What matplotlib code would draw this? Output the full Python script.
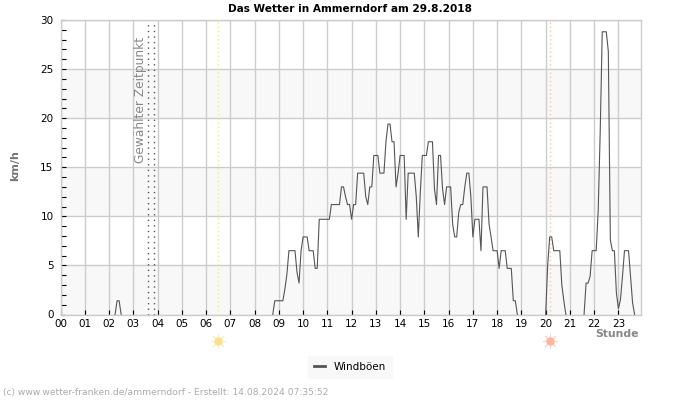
import matplotlib
matplotlib.use('Agg')
import matplotlib.pyplot as plt
from matplotlib.transforms import blended_transform_factory

# Gust values in km/h, one list per hour, one value every 5 minutes
h00 = [0] * 12
h01 = [0] * 12
h02 = [0, 0, 0, 0, 1.4, 1.4, 0, 0, 0, 0, 0, 0]
h03 = [0] * 12
h04 = [0] * 12
h05 = [0] * 12
h06 = [0] * 12
h07 = [0] * 12
h08 = [0, 0, 0, 0, 0, 0, 0, 0, 0, 0, 1.4, 1.4]
h09 = [1.4, 1.4, 1.4, 2.6, 4.1, 6.5, 6.5, 6.5, 6.5, 4.3, 3.2, 6.5]
h10 = [7.9, 7.9, 7.9, 6.5, 6.5, 6.5, 4.7, 4.7, 9.7, 9.7, 9.7, 9.7]
h11 = [9.7, 9.7, 11.2, 11.2, 11.2, 11.2, 11.2, 13, 13, 12, 11.2, 11.2]
h12 = [9.7, 11.2, 11.2, 14.4, 14.4, 14.4, 14.4, 12, 11.2, 13, 13, 16.2]
h13 = [16.2, 16.2, 14.4, 14.4, 14.4, 17.6, 19.4, 19.4, 17.6, 17.6, 13, 14.4]
h14 = [16.2, 16.2, 16.2, 9.7, 14.4, 14.4, 14.4, 14.4, 12, 7.9, 12.5, 16.2]
h15 = [16.2, 16.2, 17.6, 17.6, 17.6, 12.8, 11.2, 16.2, 16.2, 12.8, 11.2, 13]
h16 = [13, 13, 9.2, 7.9, 7.9, 10.4, 11.2, 11.2, 13, 14.4, 14.4, 12]
h17 = [7.9, 9.7, 9.7, 9.7, 6.5, 13, 13, 13, 9.2, 7.9, 6.5, 6.5]
h18 = [6.5, 4.7, 6.5, 6.5, 6.5, 4.7, 4.7, 4.7, 1.4, 1.4, 0, 0]
h19 = [0] * 12
h20 = [0, 5, 7.9, 7.9, 6.5, 6.5, 6.5, 6.5, 3, 1.4, 0, 0]
h21 = [0, 0, 0, 0, 0, 0, 0, 0, 3.2, 3.2, 3.9, 6.5]
h22 = [6.5, 6.5, 10.6, 18.7, 28.8, 28.8, 28.8, 26.8, 7.6, 6.5, 6.5, 2.2]
h23 = [0.6, 1.5, 3.9, 6.5, 6.5, 6.5, 3.9, 1.2, 0]

hour_lists = [h00, h01, h02, h03, h04, h05, h06, h07, h08, h09, h10, h11,
              h12, h13, h14, h15, h16, h17, h18, h19, h20, h21, h22, h23]
hour_labels = ['%02d' % i for i in range(24)]

selected_times = [3.6, 3.85]
sunrise = 6.51
sunset = 20.17

gusts = []
for hour_values in hour_lists:
    gusts.extend(hour_values)
times = [i * 5 / 60 for i in range(len(gusts))]

# Calm stretches are not drawn: blank a zero when both neighbours are zero too
shown = list(gusts)
for i in range(len(gusts)):
    before = gusts[i - 1] if i > 0 else 0
    after = gusts[i + 1] if i < len(gusts) - 1 else 0
    if gusts[i] == 0 and before == 0 and after == 0:
        shown[i] = float('nan')

fig = plt.figure(figsize=(7, 4), dpi=100)
ax = fig.add_axes([60.5 / 700, 1 - 314.5 / 400, 580 / 700, 294.5 / 400])
ax.set_xlim(0, 23.91)
ax.set_ylim(0, 30)

# Alternating background bands
for low in [0, 10, 20]:
    ax.axhspan(low, low + 5, color='#f8f8f8', lw=0, zorder=0)

ax.set_xticks(range(24))
ax.set_xticklabels(hour_labels, fontsize=7)
ax.set_yticks(range(0, 31, 5))
ax.set_yticks(range(0, 31), minor=True)
ax.tick_params(axis='both', which='both', direction='in', color='black', width=0.8)
ax.tick_params(axis='x', length=3.6, pad=3, labelsize=7.5)
ax.tick_params(axis='y', which='major', length=3.3, pad=5, labelsize=7.5)
ax.tick_params(axis='y', which='minor', length=3.3)
ax.grid(True, which='major', color='#cccccc', linewidth=1, zorder=1)
ax.set_axisbelow(True)
for side in ax.spines.values():
    side.set_color('#cccccc')
    side.set_linewidth(1)
    side.set_zorder(5)

for t in selected_times:
    ax.axvline(t, color='#555555', linestyle=(0, (1, 3)), linewidth=1, zorder=2)
ax.axvline(sunrise, color='#f5ee60', linestyle=(0, (1, 2)), linewidth=1, zorder=2)
ax.axvline(sunset, color='#f5c98a', linestyle=(0, (1, 2)), linewidth=1, zorder=2)

ax.plot(times, shown, color='#555555', linewidth=0.8, zorder=3, label='Windböen')

ax.text(3.3, 21.9, 'Gewählter Zeitpunkt', rotation=90, color='#888888', fontsize=8.8,
        ha='center', va='center', zorder=2)

# Sun symbols under the axis
trans = blended_transform_factory(ax.transData, fig.transFigure)
sun_y = 1 - 341 / 400
for x, col in [(sunrise, '#fce08a'), (sunset, '#fdb5a0')]:
    ax.plot([x], [sun_y], transform=trans, marker=(8, 2, 0), markersize=11, color=col,
            markeredgewidth=0.7, clip_on=False, alpha=0.6)
    ax.plot([x], [sun_y], transform=trans, marker='o', markersize=6, color=col,
            markeredgewidth=0, clip_on=False)

fig.text(349.5 / 700, 1 - 8.5 / 400, 'Das Wetter in Ammerndorf am 29.8.2018', fontsize=7.55,
         fontweight='bold', ha='center', va='center')
fig.text(15 / 700, 1 - 166 / 400, 'km/h', fontsize=8, fontweight='bold', color='#777777',
         rotation=90, ha='center', va='center')
fig.text(639 / 700, 1 - 334 / 400, 'Stunde', fontsize=7.8, fontweight='bold', color='#888888',
         ha='right', va='center')
fig.text(3 / 700, 1 - 393 / 400, '(c) www.wetter-franken.de/ammerndorf - Erstellt: 14.08.2024 07:35:52',
         fontsize=6.55, color='#aaaaaa', ha='left', va='center')

leg = ax.legend(loc='center', bbox_to_anchor=(350 / 700, 1 - 367 / 400),
                bbox_transform=fig.transFigure, frameon=True, fontsize=7.5,
                handlelength=1.05, borderpad=0.6, fancybox=False, framealpha=1)
leg.get_frame().set_facecolor('#f8f8f8')
leg.get_frame().set_edgecolor('#f8f8f8')
leg.get_lines()[0].set_linewidth(2)

plt.savefig('out.png', dpi=100)
